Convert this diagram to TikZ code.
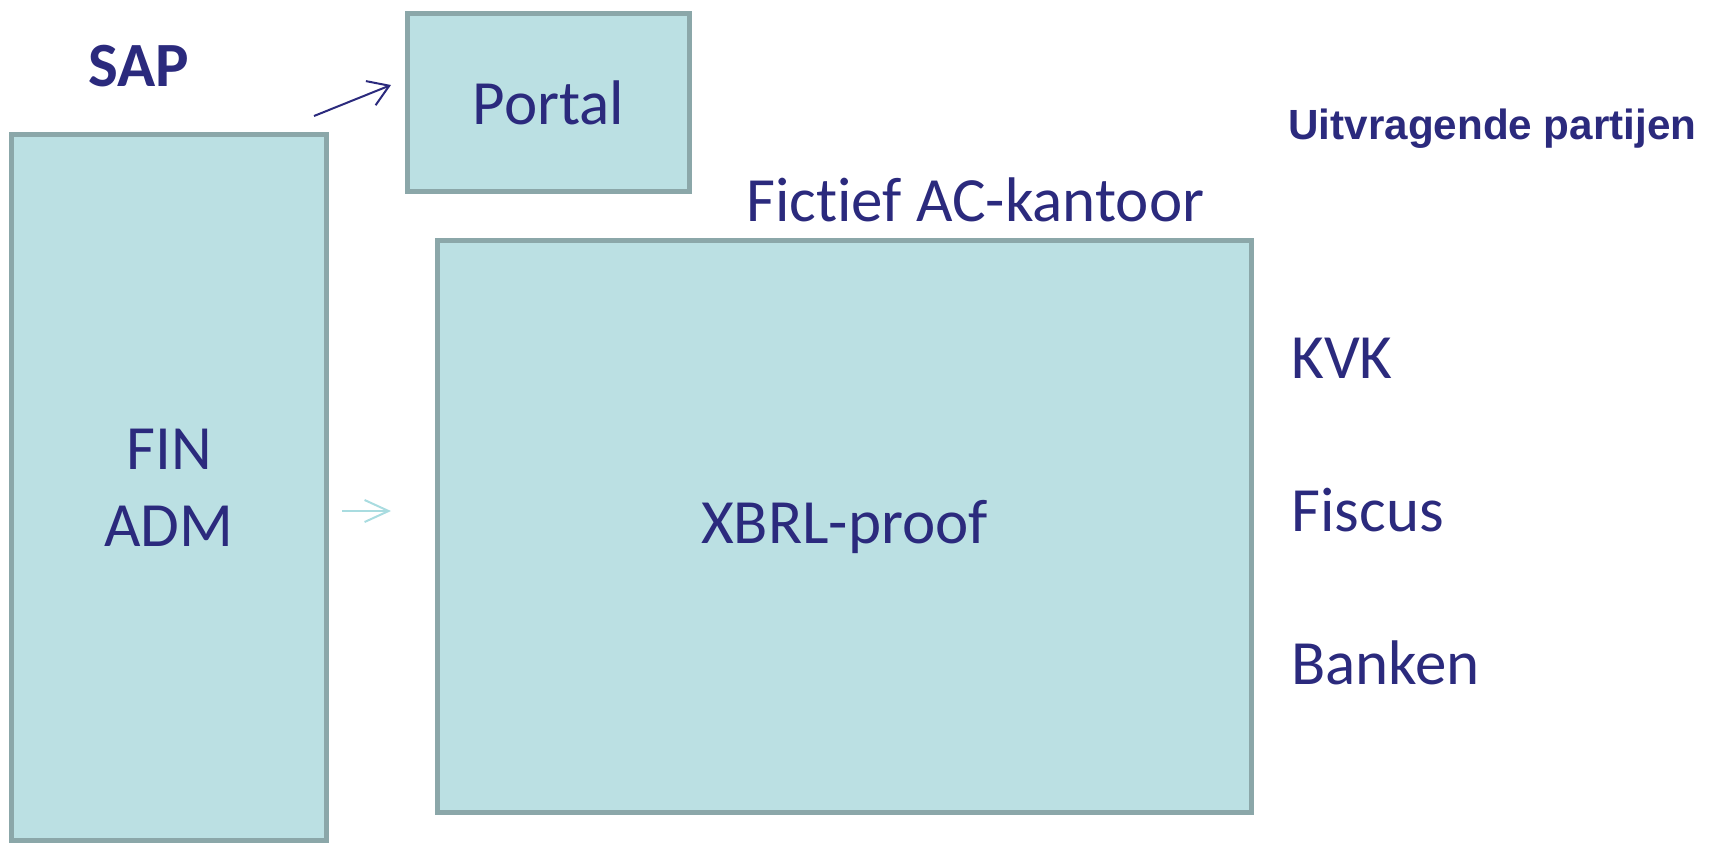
\documentclass[tikz,border=0pt]{standalone}
\usepackage{fontspec}
\setmainfont[Ligatures=NoCommon]{Carlito}
\newfontfamily\arialfont{Liberation Sans}
\usetikzlibrary{arrows.meta}
\definecolor{boxfill}{HTML}{BBE0E3}
\definecolor{boxline}{HTML}{8BA7A9}
\definecolor{navy}{HTML}{2B2A7D}
\definecolor{lightarrow}{HTML}{A9DCE0}
\tikzset{
  box/.style={draw=boxline, fill=boxfill, line width=2.5pt, inner sep=0pt,
    text=navy, font=\fontsize{31.5}{38.5}\selectfont, align=center},
  lbl/.style={text=navy, inner sep=0pt, font=\fontsize{31.5}{38.5}\selectfont},
  darrow/.style={draw=navy, line width=1pt, -{Straight Barb[length=10pt,width=13pt]}},
  larrow/.style={draw=lightarrow, line width=1pt, -{Straight Barb[length=12pt,width=11pt]}}
}
\begin{document}
\begin{tikzpicture}[x=0.5pt,y=-0.5pt]
\useasboundingbox (0,0) rectangle (1712,843);
\node[box, minimum width=157.5pt, minimum height=353pt] (fin) at (169,487.5) {FIN\\ADM};
\node[box, minimum width=141pt, minimum height=89pt] (portal) at (548.5,102.5) {Portal};
\node[box, minimum width=407pt, minimum height=286pt] (xbrl) at (844.5,526.5) {XBRL-proof};
\node[lbl, anchor=west, font=\fontsize{31.5}{38.5}\selectfont\bfseries] (sap) at (88,66) {SAP};
\node[lbl, anchor=base west, font=\arialfont\bfseries\fontsize{21.1}{26}\selectfont] (uit) at (1288,139) {Uitvragende partijen};
\node[lbl, anchor=west] (fictief) at (746,200) {Fictief AC-kantoor};
\node[lbl, anchor=west] (kvk) at (1291,358) {KVK};
\node[lbl, anchor=west] (fiscus) at (1291,510) {Fiscus};
\node[lbl, anchor=west] (banken) at (1291,663) {Banken};
\coordinate (a1s) at (314,116);
\coordinate (a1e) at (391,85);
\coordinate (a2s) at (342,511);
\coordinate (a2e) at (391,511);
\draw[darrow] (a1s) -- (a1e);
\draw[larrow] (a2s) -- (a2e);
\end{tikzpicture}
\end{document}
